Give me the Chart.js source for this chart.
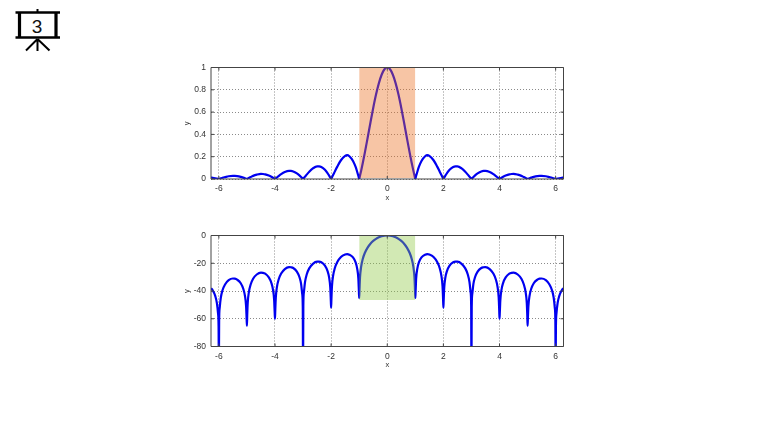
<!DOCTYPE html>
<html><head><meta charset="utf-8">
<script src="https://cdn.jsdelivr.net/npm/chart.js@4"></script>
<style>
html,body{margin:0;padding:0;background:#fff;width:758px;height:426px;overflow:hidden}
.c{position:absolute;left:170px;width:410px;height:150px}
#i{position:absolute;left:0;top:0}
</style></head><body>
<svg id="i" width="80" height="60" viewBox="0 0 80 60">
<g stroke="#000" fill="none" stroke-linecap="butt">
<path d="M15.5 12.5H60M15.5 37.5H60" stroke-width="2.6"/>
<path d="M19.5 12V38M56 12V38" stroke-width="3.2"/>
<path d="M37.5 9V12" stroke-width="2"/>
<path d="M37.5 39V51M37.5 39L26 50.5M37.5 39L49.5 50.5" stroke-width="2"/>
</g>
<text x="37" y="32.5" text-anchor="middle" font-family="Liberation Sans" font-size="19" fill="#111">3</text>
</svg>
<div class="c" style="top:55px"><canvas id="top" width="410" height="150"></canvas></div>
<div class="c" style="top:225px"><canvas id="bot" width="410" height="150"></canvas></div>
<script>
const xValues = [
-6.28,-6.22,-6.13,-6.07,-6.03,-6.01,-6,
-5.99,-5.97,-5.93,-5.87,-5.78,-5.65,-5.5,-5.43,-5.35,-5.22,-5.13,-5.07,-5.03,-5.01,-5,
-4.99,-4.97,-4.93,-4.87,-4.78,-4.65,-4.5,-4.43,-4.35,-4.22,-4.13,-4.07,-4.03,-4.01,-4,
-3.99,-3.97,-3.93,-3.87,-3.78,-3.65,-3.5,-3.43,-3.35,-3.22,-3.13,-3.07,-3.03,-3.01,-3,
-2.99,-2.97,-2.93,-2.87,-2.78,-2.65,-2.5,-2.43,-2.35,-2.22,-2.13,-2.07,-2.03,-2.01,-2,
-1.99,-1.97,-1.93,-1.87,-1.78,-1.65,-1.5,-1.43,-1.35,-1.22,-1.13,-1.07,-1.03,-1.01,-1,
-0.99,-0.97,-0.93,-0.87,-0.8,-0.7,-0.6,-0.5,-0.4,-0.3,-0.2,-0.1,0,
0.1,0.2,0.3,0.4,0.5,0.6,0.7,0.8,0.87,0.93,0.97,0.99,1,
1.01,1.03,1.07,1.13,1.22,1.35,1.43,1.5,1.65,1.78,1.87,1.93,1.97,1.99,2,
2.01,2.03,2.07,2.13,2.22,2.35,2.43,2.5,2.65,2.78,2.87,2.93,2.97,2.99,3,
3.01,3.03,3.07,3.13,3.22,3.35,3.43,3.5,3.65,3.78,3.87,3.93,3.97,3.99,4,
4.01,4.03,4.07,4.13,4.22,4.35,4.43,4.5,4.65,4.78,4.87,4.93,4.97,4.99,5,
5.01,5.03,5.07,5.13,5.22,5.35,5.43,5.5,5.65,5.78,5.87,5.93,5.97,5.99,6,
6.01,6.03,6.07,6.13,6.22,6.28];
const magnitude = [
.0126,.0106,.0067,.0037,.0016,.0005,0,
.0008,.0025,.006,.011,.017,.025,.028,.028,.026,.019,.012,.0067,.0029,.001,0,
.0013,.004,.009,.017,.028,.039,.046,.045,.042,.031,.020,.011,.0048,.0016,0,
.002,.006,.014,.026,.043,.062,.072,.072,.068,.050,.032,.018,.0079,.0026,0,
.003,.009,.021,.039,.065,.095,.113,.113,.108,.082,.053,.0302,.0132,.0044,0,
.0049,.0148,.035,.066,.111,.168,.207,.214,.204,.162,.110,.063,.0285,.0095,0,
.010,.031,.075,.145,.234,.368,.505,.637,.757,.858,.935,.984,1,
.984,.935,.858,.757,.637,.505,.368,.234,.145,.075,.031,.010,0,
.0095,.0285,.063,.110,.162,.204,.214,.207,.168,.111,.066,.035,.0148,.0049,0,
.0044,.0132,.0302,.053,.082,.108,.113,.113,.095,.065,.039,.021,.009,.003,0,
.0026,.0079,.018,.032,.050,.068,.072,.072,.062,.043,.026,.014,.006,.002,0,
.0016,.0048,.011,.020,.031,.042,.045,.046,.039,.028,.017,.009,.004,.0013,0,
.001,.0029,.0067,.012,.019,.026,.028,.028,.025,.017,.011,.006,.0025,.0008,0,
.0005,.0016,.0037,.0067,.0106,.0126];
const decibels = [
-38,-39.5,-43.5,-48.7,-56,-65.5,-100,
-61.7,-52.1,-44.8,-39.5,-35.3,-32.2,-31,-31.1,-31.8,-34.4,-38.4,-43.5,-50.7,-60.3,-65,
-57.8,-48.1,-40.8,-35.5,-31.2,-28.1,-26.8,-26.9,-27.5,-30.2,-34.1,-39.2,-46.4,-55.9,-60,
-54,-44.4,-37,-31.7,-27.4,-24.2,-22.8,-22.9,-23.4,-26,-29.9,-34.9,-42.1,-51.6,-100,
-50.5,-40.9,-33.5,-28.1,-23.7,-20.4,-18.9,-18.9,-19.3,-21.7,-25.5,-30.4,-37.6,-47.1,-52,
-46.2,-36.6,-29.1,-23.6,-19.1,-15.5,-13.7,-13.4,-13.8,-15.8,-19.2,-24,-30.9,-40.4,-45,
-39.9,-30.2,-22.5,-16.75,-12.62,-8.69,-5.94,-3.92,-2.42,-1.33,-.58,-.14,0,
-.14,-.58,-1.33,-2.42,-3.92,-5.94,-8.69,-12.62,-16.75,-22.5,-30.2,-39.9,-45,
-40.4,-30.9,-24,-19.2,-15.8,-13.8,-13.4,-13.7,-15.5,-19.1,-23.6,-29.1,-36.6,-46.2,-52,
-47.1,-37.6,-30.4,-25.5,-21.7,-19.3,-18.9,-18.9,-20.4,-23.7,-28.1,-33.5,-40.9,-50.5,-100,
-51.6,-42.1,-34.9,-29.9,-26,-23.4,-22.9,-22.8,-24.2,-27.4,-31.7,-37,-44.4,-54,-60,
-55.9,-46.4,-39.2,-34.1,-30.2,-27.5,-26.9,-26.8,-28.1,-31.2,-35.5,-40.8,-48.1,-57.8,-65,
-60.3,-50.7,-43.5,-38.4,-34.4,-31.8,-31.1,-31,-32.2,-35.3,-39.5,-44.8,-52.1,-61.7,-100,
-65.5,-56,-48.7,-43.5,-39.5,-38];
const xTicks = [-6,-4,-2,0,2,4,6];
const yTicksTop = [0,0.2,0.4,0.6,0.8,1];
const yTicksBottom = [-80,-60,-40,-20,0];
const xLimits = [-6.28,6.28];
const bandX = [-1,1];
const bandTop = [0.01,1];
const bandBottom = [-46.5,0];

const TEXT='#333', FRAME='#444', GRID='#8a8a8a';
const font={family:'Liberation Sans, Arial, sans-serif',size:8.5};
const frame={id:'frame',afterDatasetsDraw(ch){
  const {ctx,chartArea:a,scales:{x,y}}=ch;
  ctx.save();ctx.strokeStyle=FRAME;ctx.lineWidth=1;
  ctx.beginPath();
  ctx.rect(a.left,a.top,a.right-a.left,a.bottom-a.top);
  x.ticks.forEach(t=>{const p=x.getPixelForValue(t.value);
    ctx.moveTo(p,a.bottom);ctx.lineTo(p,a.bottom-3);ctx.moveTo(p,a.top);ctx.lineTo(p,a.top+3);});
  y.ticks.forEach(t=>{const p=y.getPixelForValue(t.value);
    ctx.moveTo(a.left,p);ctx.lineTo(a.left+3,p);ctx.moveTo(a.right,p);ctx.lineTo(a.right-3,p);});
  ctx.stroke();ctx.restore();
}};
function make(id,values,yTicks,yMin,yMax,band,bandColor,pad,xH,padB){
  return new Chart(document.getElementById(id),{
    type:'line',
    data:{datasets:[
      {data:xValues.map((x,i)=>({x,y:values[i]})),borderColor:'#0000f0',borderWidth:2.2,pointRadius:0,cubicInterpolationMode:'monotone',fill:false,order:2},
      {data:bandX.map(x=>({x,y:band[1]})),borderWidth:0,borderColor:'transparent',backgroundColor:bandColor,pointRadius:0,fill:{value:band[0]},order:1}
    ]},
    options:{responsive:false,animation:false,
      layout:{padding:{top:pad,right:16.5,left:12,bottom:padB}},
      plugins:{legend:{display:false},tooltip:{enabled:false},filler:{drawTime:'beforeDatasetDraw'}},
      scales:{
        x:{type:'linear',min:xLimits[0],max:xLimits[1],
          afterBuildTicks:s=>{s.ticks=xTicks.map(value=>({value}))},
          afterFit:s=>{s.height=xH},
          grid:{color:GRID,lineWidth:1,drawTicks:false},border:{dash:[1,2],display:false},
          ticks:{color:TEXT,font,padding:5,maxRotation:0,autoSkip:false},
          title:{display:true,text:'x',color:TEXT,font:{family:font.family,size:7.5},padding:{top:1,bottom:0}}},
        y:{type:'linear',min:yMin,max:yMax,
          afterBuildTicks:s=>{s.ticks=yTicks.map(value=>({value}))},
          afterFit:s=>{s.width=29},
          grid:{color:GRID,lineWidth:1,drawTicks:false},border:{dash:[1,2],display:false},
          ticks:{color:TEXT,font,padding:5,autoSkip:false,callback:v=>String(v)},
          title:{display:true,text:'y',color:TEXT,font:{family:font.family,size:7.5},padding:{top:0,bottom:0}}}
      }},
    plugins:[frame]
  });
}
make('top',magnitude,yTicksTop,0,1,bandTop,'rgba(235,110,30,0.4)',12.5,23,3);
make('bot',decibels,yTicksBottom,-80,0,bandBottom,'rgba(142,200,67,0.4)',10.5,22.5,6);
</script>
</body></html>
